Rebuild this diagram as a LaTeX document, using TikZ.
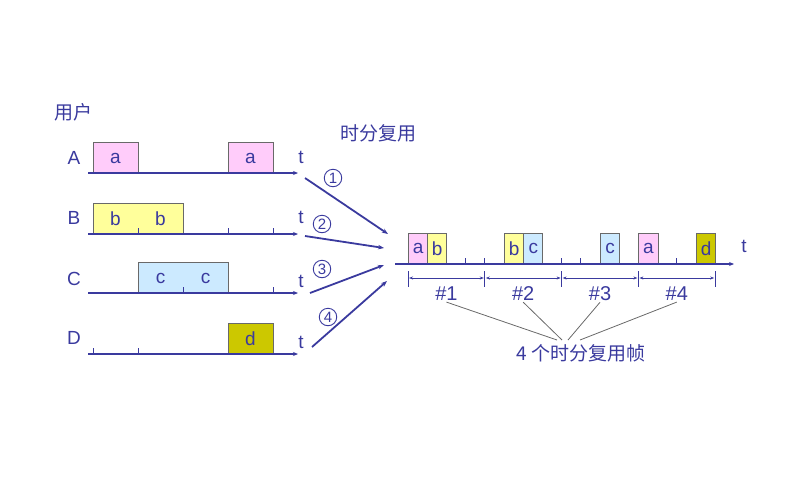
\documentclass[tikz,border=0pt]{standalone}
\usepackage{fontspec}
\setmainfont{Liberation Sans}
\newfontfamily\cjk{Noto Sans CJK SC}
\usetikzlibrary{arrows.meta,positioning}
\definecolor{tdmblue}{RGB}{58,58,158}
\definecolor{tdmgray}{RGB}{105,105,105}
\definecolor{slotpink}{RGB}{255,204,250}
\definecolor{slotyellow}{RGB}{255,255,155}
\definecolor{slotcyan}{RGB}{204,234,255}
\definecolor{slotolive}{RGB}{204,200,0}

\begin{document}
\begin{tikzpicture}[x=1pt,y=-1pt,>=Stealth,
  lbl/.style={text=tdmblue,font=\fontsize{19}{21}\selectfont,inner sep=1pt},
  clbl/.style={text=tdmblue,font=\cjk\fontsize{19}{21}\selectfont,inner sep=1pt},
  nlbl/.style={circle,draw=tdmblue,line width=0.9pt,text=tdmblue,minimum size=17.5,
               inner sep=0pt,font=\fontsize{15}{15}\selectfont},
  axis/.style={draw=tdmblue,line width=1.8pt,-{Stealth[length=5pt,width=4pt]}},
  feed/.style={draw=tdmblue,line width=1.8pt,-{Stealth[length=6pt,width=4.5pt]}},
  blk/.style={draw=tdmgray,fill=#1,line width=0.9pt,anchor=south west,
              minimum height=30,inner sep=0pt},
  sblk/.style={blk=#1,minimum width=19.2,text=tdmblue,
              font=\fontsize{19}{21}\selectfont},
  tick/.style={draw=tdmblue,line width=0.9pt}]
  \useasboundingbox (0,0) rectangle (800,477);
  % users on the left
  \node[clbl](user) at (73,112) {用户};
  \node[lbl](uA) at (74,158) {A};
  \node[lbl](uB) at (74,218) {B};
  \node[lbl](uC) at (74,279) {C};
  \node[lbl](uD) at (74,338) {D};
  \node[blk=slotpink,minimum width=45](a1) at (93,173) {};
  \node[blk=slotpink,minimum width=45](a2) at (228,173) {};
  \node[blk=slotyellow,minimum width=90](b1) at (93,234) {};
  \node[blk=slotcyan,minimum width=90](c1) at (138,293) {};
  \node[blk=slotolive,minimum width=45](d1) at (228,354) {};
  \node[lbl](ta1) at (115.5,158) {a};
  \node[lbl](ta2) at (250.5,158) {a};
  \node[lbl](tb1) at (115.5,219) {b};
  \node[lbl](tb2) at (160.5,219) {b};
  \node[lbl](tc1) at (160.5,278) {c};
  \node[lbl](tc2) at (205.5,278) {c};
  \node[lbl](td1) at (250.5,339) {d};
  \coordinate (As) at (88,173); \coordinate (Ae) at (298,173);
  \coordinate (Bs) at (88,234); \coordinate (Be) at (298,234);
  \coordinate (Cs) at (88,293); \coordinate (Ce) at (298,293);
  \coordinate (Ds) at (88,354); \coordinate (De) at (298,354);
  \draw[axis](As)--(Ae);
  \draw[axis](Bs)--(Be);
  \draw[axis](Cs)--(Ce);
  \draw[axis](Ds)--(De);
  \foreach \x/\y in {138/234,228/234,273/234,183/293,273/293,93/354,138/354}
    \draw[tick](\x,\y)--(\x,\y-6);
  \node[lbl](tA) at (301,157) {t};
  \node[lbl](tB) at (301,217) {t};
  \node[lbl](tC) at (301,281) {t};
  \node[lbl](tD) at (301,342) {t};
  % multiplexer
  \node[clbl](mux) at (378,133) {时分复用};
  \node[nlbl](n1) at (333,178) {1};
  \node[nlbl](n2) at (322,224) {2};
  \node[nlbl](n3) at (322,269) {3};
  \node[nlbl](n4) at (328,317) {4};
  \coordinate (f1s) at (305,178); \coordinate (f1e) at (388,234);
  \coordinate (f2s) at (305,236); \coordinate (f2e) at (384,248);
  \coordinate (f3s) at (310,293); \coordinate (f3e) at (384,265);
  \coordinate (f4s) at (312,347); \coordinate (f4e) at (387,281);
  \draw[feed](f1s)--(f1e);
  \draw[feed](f2s)--(f2e);
  \draw[feed](f3s)--(f3e);
  \draw[feed](f4s)--(f4e);
  % multiplexed line
  \coordinate (Ms) at (395,264); \coordinate (Me) at (734,264);
  \foreach \k in {0,...,16}
    \draw[tick](408+19.2*\k,264)--(408+19.2*\k,258);
  \node[sblk=slotpink](s0) at (408,264) {a};
  \node[sblk=slotyellow](s1) at (427.2,264) {b};
  \node[sblk=slotyellow](s5) at (504,264) {b};
  \node[sblk=slotcyan](s6) at (523.2,264) {c};
  \node[sblk=slotcyan](s10) at (600,264) {c};
  \node[sblk=slotpink](s12) at (638.4,264) {a};
  \node[sblk=slotolive](s15) at (696,264) {d};
  \draw[axis](Ms)--(Me);
  \node[lbl](tM) at (744,246) {t};
  % frames
  \foreach \x in {408,484.8,561.6,638.4,715.2}
    \draw[tick,line width=1pt](\x,271)--(\x,287);
  \foreach \x in {408,484.8,561.6,638.4}
    \draw[tdmblue,line width=0.9pt,{Stealth[length=4pt,width=3pt]}-{Stealth[length=4pt,width=3pt]}]
      (\x+1,278)--(\x+75.8,278);
  \node[lbl,font=\fontsize{20}{22}\selectfont](fr1) at (446.4,294) {\#1};
  \node[lbl,font=\fontsize{20}{22}\selectfont](fr2) at (523.2,294) {\#2};
  \node[lbl,font=\fontsize{20}{22}\selectfont](fr3) at (600,294) {\#3};
  \node[lbl,font=\fontsize{20}{22}\selectfont](fr4) at (676.8,294) {\#4};
  \node[clbl,inner sep=4pt](frames) at (581,353) {4 个时分复用帧};
  \draw[tdmgray,line width=0.8pt](fr1.south)--([xshift=-24pt]frames.north);
  \draw[tdmgray,line width=0.8pt](fr2.south)--([xshift=-19pt]frames.north);
  \draw[tdmgray,line width=0.8pt](fr3.south)--([xshift=-13pt]frames.north);
  \draw[tdmgray,line width=0.8pt](fr4.south)--([xshift=-1pt]frames.north);
\end{tikzpicture}
\end{document}
